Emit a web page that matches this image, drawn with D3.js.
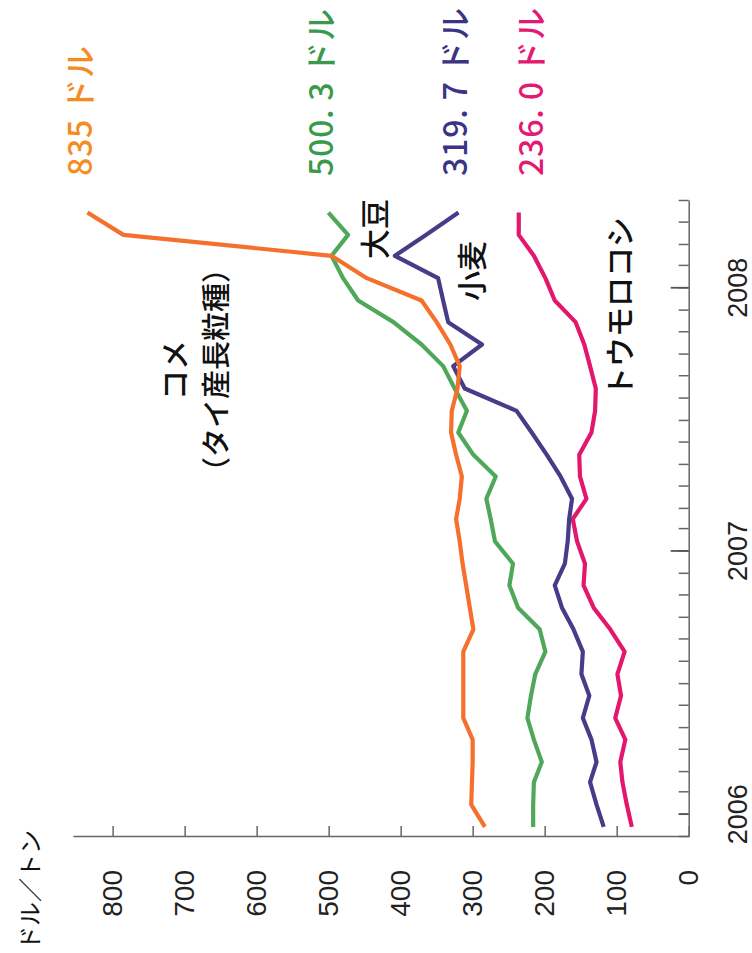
<!DOCTYPE html>
<html>
<head>
<meta charset="utf-8">
<script src="https://cdn.jsdelivr.net/npm/d3@7"></script>
<style>
  body { margin: 0; background: #fff; }
  svg { display: block; }
</style>
</head>
<body>
<div id="chart"></div>
<script>
// monthly prices, Dec 2005 .. Apr 2008 (dollars per ton)
const months = [
    "2005-12",
    "2006-01", "2006-02", "2006-03", "2006-04", "2006-05", "2006-06",
    "2006-07", "2006-08", "2006-09", "2006-10", "2006-11", "2006-12",
    "2007-01", "2007-02", "2007-03", "2007-04", "2007-05", "2007-06",
    "2007-07", "2007-08", "2007-09", "2007-10", "2007-11", "2007-12",
    "2008-01", "2008-02", "2008-03", "2008-04"
]
const rice    = [283, 302, 301, 300, 300, 313, 313, 313, 313, 299, 304, 309, 314, 318, 323, 318, 315, 323, 330, 329, 321, 318, 331, 350, 371, 447, 496, 785, 835]
const soybean = [216, 216, 215, 204, 215, 224, 219, 213, 199, 207, 237, 249, 244, 269, 275, 281, 268, 299, 320, 308, 325, 341, 371, 410, 459, 480, 496, 473, 500.3]
const wheat   = [118, 128, 137, 128, 135, 147, 138, 149, 147, 160, 176, 186, 172, 168, 166, 162, 178, 197, 218, 239, 311, 327, 287, 334, 341, 348, 408, 365, 319.7]
const corn    = [79, 86, 92, 95, 88, 102, 94, 99, 89, 109, 132, 146, 144, 155, 161, 142, 151, 152, 135, 130, 129, 137, 145, 157, 186, 199, 215, 236, 236.0]

const valueTicks = [0, 100, 200, 300, 400, 500, 600, 700, 800]
const yearTicks = ["2006", "2007", "2008"]
const unitLabel = "ドル／トン"

const seriesNames = ["トウモロコシ", "小麦", "大豆", "コメ"]
const seriesValues = [corn, wheat, soybean, rice]
const seriesColors = ["#e3176d", "#463c88", "#4fa85a", "#f4702c"]
const endLabels = ["236. 0 ドル", "319. 7 ドル", "500. 3 ドル", "835 ドル"]
const endColors = ["#e41a72", "#3b3486", "#3a9a4c", "#f68b1f"]

const width = 752
const height = 953
const numFont = "'Liberation Sans', Arial, sans-serif"
const jpFont = "'Noto Sans CJK JP', sans-serif"

const parseMonth = d3.timeParse("%Y-%m")
const dates = months.map(m => d3.timeDay.offset(parseMonth(m), 14))

const svg = d3.select("#chart")
    .append("svg")
    .attr("width", width)
    .attr("height", height)

svg.append("rect").attr("width", width).attr("height", height).attr("fill", "#fff")

// the whole chart is drawn upright and turned a quarter turn to the left
const g = svg.append("g")
    .attr("transform", `translate(0,${height}) rotate(-90)`)

const x = d3.scaleTime()
    .domain([new Date(2005, 11, 1), new Date(2008, 4, 1)])
    .range([116, 752])

const y = d3.scaleLinear()
    .domain([0, 855])
    .range([688.7, 73])

// value axis
const yAxis = g.append("g")
    .attr("transform", `translate(${x.range()[0]},0)`)
    .call(d3.axisLeft(y).tickValues(valueTicks).tickSizeInner(-11).tickSizeOuter(0).tickPadding(33))
yAxis.selectAll("path, line").attr("stroke", "#666").attr("stroke-width", 1.5)
yAxis.selectAll("text")
    .attr("font-family", numFont)
    .attr("font-size", 28)
    .attr("fill", "#222")

// time axis: monthly ticks, then years
const xMinor = g.append("g")
    .attr("transform", `translate(0,${y(0)})`)
    .call(d3.axisBottom(x).ticks(d3.timeMonth.every(1)).tickSizeInner(-10).tickSizeOuter(0).tickFormat(""))
xMinor.selectAll("path, line").attr("stroke", "#666").attr("stroke-width", 1.5)

const xMajor = g.append("g")
    .attr("transform", `translate(0,${y(0)})`)
    .call(d3.axisBottom(x)
        .tickValues(yearTicks.map(t => new Date(+t, 0, 1)))
        .tickSizeInner(-18).tickSizeOuter(0).tickPadding(39)
        .tickFormat(d3.timeFormat("%Y")))
xMajor.select(".domain").remove()
xMajor.selectAll("line").attr("stroke", "#555").attr("stroke-width", 1.8)
xMajor.selectAll(".tick").filter((d, i) => i === 0).select("line").attr("y2", -10)
xMajor.selectAll("text")
    .attr("font-family", numFont)
    .attr("font-size", 27)
    .attr("fill", "#222")

// lines
const line = d3.line()
    .x((d, i) => x(dates[i]))
    .y(d => y(d))

g.selectAll(".series")
    .data(seriesValues)
    .enter()
    .append("path")
    .attr("class", "series")
    .attr("d", line)
    .attr("fill", "none")
    .attr("stroke", (d, i) => seriesColors[i])
    .attr("stroke-width", 4.2)
    .attr("stroke-linejoin", "round")

// latest values at the top
const endY = [529, 453, 319, 78]
const endLen = [168, 168, 167, 130]
g.selectAll(".endlabel")
    .data(endLabels)
    .enter()
    .append("text")
    .attr("x", 777)
    .attr("y", (d, i) => endY[i])
    .attr("dominant-baseline", "central")
    .attr("font-family", jpFont)
    .attr("font-weight", 500)
    .attr("font-size", 32)
    .attr("textLength", (d, i) => endLen[i])
    .attr("lengthAdjust", "spacing")
    .attr("fill", (d, i) => endColors[i])
    .text(d => d)

// names next to the lines
const nameX = [556, 652, 694, 583]
const nameY = [618, 470, 373, 173]
g.selectAll(".name")
    .data(seriesNames)
    .enter()
    .append("text")
    .attr("x", (d, i) => nameX[i])
    .attr("y", (d, i) => nameY[i])
    .attr("text-anchor", (d, i) => i === 3 ? "middle" : "start")
    .attr("dominant-baseline", "central")
    .attr("font-family", jpFont)
    .attr("font-weight", 500)
    .attr("font-size", 30)
    .attr("fill", "#111")
    .text(d => d)

g.append("text")
    .attr("x", 583)
    .attr("y", 214)
    .attr("text-anchor", "middle")
    .attr("dominant-baseline", "central")
    .attr("font-family", jpFont)
    .attr("font-weight", 500)
    .attr("font-size", 29)
    .attr("fill", "#111")
    .text("（タイ産長粒種）")

g.append("text")
    .attr("x", 3)
    .attr("y", 28)
    .attr("dominant-baseline", "central")
    .attr("font-family", jpFont)
    .attr("font-size", 24)
    .attr("fill", "#111")
    .text(unitLabel)
</script>
</body>
</html>
